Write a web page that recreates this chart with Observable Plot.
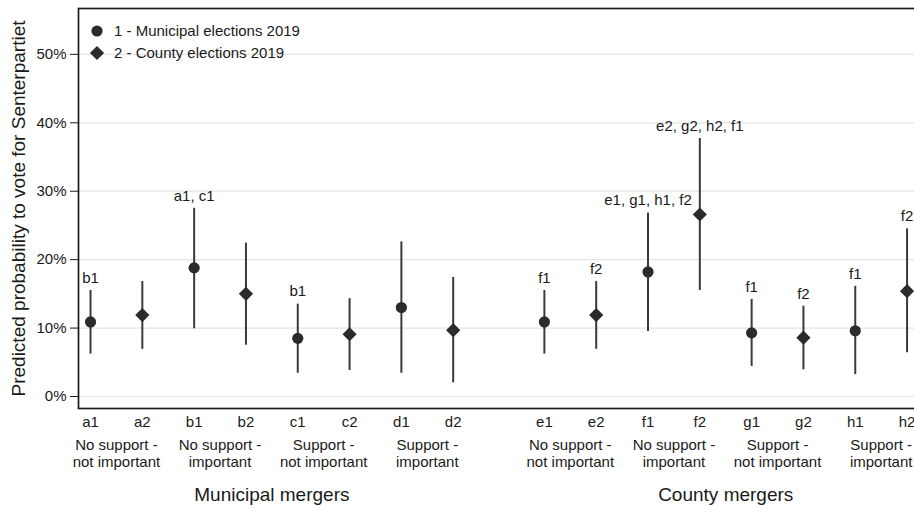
<!DOCTYPE html>
<html><head><meta charset="utf-8">
<script src="https://cdn.jsdelivr.net/npm/d3@7"></script>
<script src="https://cdn.jsdelivr.net/npm/@observablehq/plot@0.6"></script>
<style>
body{margin:0;background:#fff;font-family:"Liberation Sans",Arial,sans-serif;}
#wrap{position:relative;width:914px;height:515px;overflow:hidden;}
#legend{position:absolute;left:88px;top:20px;font-size:15px;color:#1a1a1a;line-height:22px;}
#legend div{display:flex;align-items:center;height:22px;}
#legend svg{margin-right:8px;}
</style></head><body><div id="wrap"><div id="legend"></div></div>
<script>
const categories = ["a1","a2","b1","b2","c1","c2","d1","d2","e1","e2","f1","f2","g1","g2","h1","h2"];
const groups = ["Municipal mergers","Municipal mergers","Municipal mergers","Municipal mergers","Municipal mergers","Municipal mergers","Municipal mergers","Municipal mergers",
  "County mergers","County mergers","County mergers","County mergers","County mergers","County mergers","County mergers","County mergers"];
const subgroupNames = ["No support -\nnot important","No support -\nimportant","Support -\nnot important","Support -\nimportant"];
const elections = ["1 - Municipal elections 2019","2 - County elections 2019"];
const electionOf = [1,2,1,2,1,2,1,2,1,2,1,2,1,2,1,2];
const estimate = [10.9,11.9,18.8,15.0,8.5,9.1,13.0,9.7, 10.9,11.9,18.2,26.6,9.3,8.6,9.6,15.4];
const lower    = [6.2, 6.9, 9.9, 7.5, 3.4,3.8,3.4, 2.0, 6.2, 6.9, 9.5, 15.5,4.4,3.9,3.2,6.4];
const upper    = [15.5,16.8,27.5,22.4,13.5,14.3,22.6,17.4, 15.5,16.8,26.8,37.7,14.2,13.2,16.1,24.5];
const annotations = ["b1","","a1, c1","","b1","","","", "f1","f2","e1, g1, h1, f2","e2, g2, h2, f1","f1","f2","f1","f2"];
const yTicks = [0,10,20,30,40,50];
const yTitle = "Predicted probability to vote for Senterpartiet";

const GAP = 0.76;
const groupOrder = ["Municipal mergers","County mergers"];
const data = categories.map((c,i)=>({
  cat:c, pos: i + (groups[i]===groupOrder[1] ? GAP : 0),
  group: groups[i], election: elections[electionOf[i]-1],
  est: estimate[i], lo: lower[i], hi: upper[i], ann: annotations[i]
}));
const labelAt = new Map(data.map(d=>[d.pos,d.cat]));
const subs = [];
for (let g=0; g<2; g++) for (let s=0; s<4; s++) {
  const a = data[g*8+s*2], b = data[g*8+s*2+1];
  subs.push({pos:(a.pos+b.pos)/2, text: subgroupNames[s]});
}
const groupLabels = groupOrder.map(g=>{
  const ps = data.filter(d=>d.group===g).map(d=>d.pos);
  return {pos: (d3.min(ps)+d3.max(ps))/2, text:g};
});
const ink = "#1a1a1a", mark = "#2b2b2b", line = "#3a3a3a";

const chart = Plot.plot({
  width: 914, height: 515,
  marginLeft: 78, marginRight: -5, marginTop: 8, marginBottom: 107,
  style: {fontFamily: '"Liberation Sans", Arial, sans-serif', fontSize: "15px", color: ink, background: "white", overflow: "visible"},
  x: {type:"linear", domain: [-0.232, 16.0]},
  y: {domain: [-1.75, 56.7]},
  marks: [
    Plot.gridY(yTicks, {stroke:"#e4e4e4", strokeOpacity:1, strokeWidth:1.2}),
    Plot.axisY(yTicks, {tickFormat: d=>d+"%", tickSize:8, tickPadding:4, fontSize:15, stroke: ink, label:null}),
    Plot.axisX(data.map(d=>d.pos), {tickFormat: d=>labelAt.get(d), tickSize:0, tickPadding:8, fontSize:15, label:null}),
    Plot.ruleX(data, {x:"pos", y1:"lo", y2:"hi", stroke: line, strokeWidth:2}),
    Plot.dot(data.filter(d=>d.election===elections[0]), {x:"pos", y:"est", r:5.6, symbol:"circle", fill: mark, stroke:"none"}),
    Plot.dot(data.filter(d=>d.election===elections[1]), {x:"pos", y:"est", r:6.4, symbol:"diamond2", fill: mark, stroke:"none"}),
    Plot.text(data.filter(d=>d.ann), {x:"pos", y:"hi", text:"ann", dy:-12.5, fontSize:15, fill: ink}),
    Plot.text(subs, {x:"pos", text:"text", frameAnchor:"bottom", dy:44.5, lineAnchor:"middle", lineHeight:1.13, fontSize:15, fill: ink}),
    Plot.text(groupLabels, {x:"pos", text:"text", frameAnchor:"bottom", dy:92, fontSize:19, fill: ink}),
    Plot.text([yTitle], {text: d=>d, frameAnchor:"left", textAnchor:"middle", dx:-60, rotate:-90, fontSize:19, fill: ink}),
    Plot.frame({stroke: ink, strokeWidth:1.7})
  ]
});
document.getElementById("wrap").appendChild(chart);

const leg = document.getElementById("legend");
const syms = ['<circle cx="9" cy="9" r="5.6" fill="'+mark+'"/>', '<path d="M9 1.9 L16.1 9 L9 16.1 L1.9 9 Z" fill="'+mark+'"/>'];
elections.forEach((e,i)=>{
  const row = document.createElement("div");
  row.innerHTML = '<svg width="18" height="18">'+syms[i]+'</svg><span>'+e+'</span>';
  leg.appendChild(row);
});
leg.style.zIndex = 2;
</script>
</body></html>
